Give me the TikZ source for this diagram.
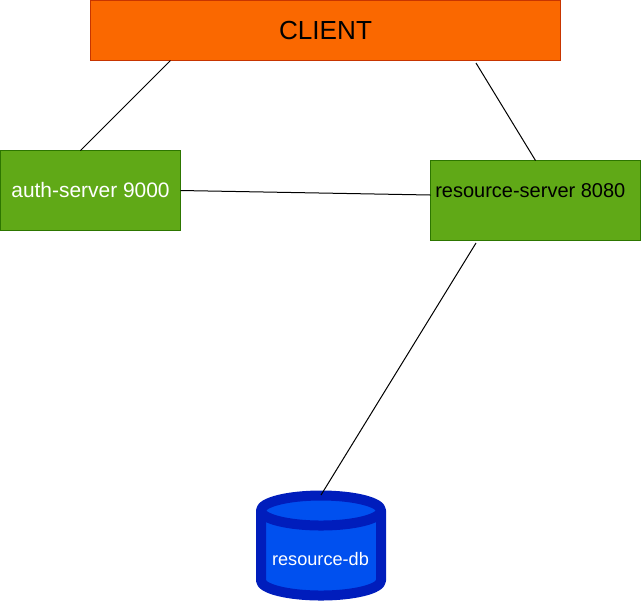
\documentclass[tikz,border=0pt]{standalone}
\usepackage{fontspec}
\setmainfont{Liberation Sans}
\definecolor{clientfill}{HTML}{FA6800}
\definecolor{clientline}{HTML}{C73500}
\definecolor{serverfill}{HTML}{60A917}
\definecolor{serverline}{HTML}{2D7600}
\definecolor{dbfill}{HTML}{0050EF}
\definecolor{dbline}{HTML}{001DBC}
\tikzset{
  box/.style={draw,line width=0.75pt,inner sep=0pt},
  server/.style={box,fill=serverfill,draw=serverline,minimum width=135pt,minimum height=60pt},
  link/.style={line width=0.75pt,black}
}
\begin{document}
\begin{tikzpicture}[x=0.75pt,y=-0.75pt]
      \useasboundingbox (0,0) rectangle (641,601);

      \node [box,fill=clientfill,draw=clientline,minimum width=352.5pt,minimum height=45pt,font=\fontsize{19.6}{22}\selectfont] (client) at (325.5,30.5) {CLIENT};
      \node [server,text=white,font=\fontsize{15.7}{18}\selectfont] (auth) at (90.5,190.5) {auth-server 9000};
      \node [server,minimum width=157.5pt] (resource) at (535.5,200.5) {};
      \node [anchor=west,inner sep=0pt,font=\fontsize{15}{18}\selectfont] (resourcelabel) at (435,190.5) {resource-server 8080};

      %% the database drawn by hand, text on top
      \draw [line width=7.5pt,line join=round,draw=dbline,fill=dbfill] (261,510.5) arc (180:360:60 and 15) -- (381,580.5) arc (0:180:60 and 15) -- cycle;
      \draw [line width=7.5pt,draw=dbline] (261,510.5) arc (180:0:60 and 15);
      \node [text=white,font=\fontsize{13.6}{16}\selectfont] (db) at (320.5,559) {resource-db};

      \coordinate (clientleft) at (170.5,60.5);
      \coordinate (clientright) at (476,63);
      \coordinate (resourcetop) at (535.5,160.5);
      \coordinate (authtop) at (80.5,150.5);
      \coordinate (authright) at (180.5,190.5);
      \coordinate (resourceleft) at (430.5,195);
      \coordinate (resourcelow) at (476,243);
      \coordinate (dbtop) at (321,495);

      \draw[link] (clientleft) -- (authtop);
      \draw[link] (clientright) -- (resourcetop);
      \draw[link] (authright) -- (resourceleft);
      \draw[link] (resourcelow) -- (dbtop);
    \end{tikzpicture}
\end{document}
